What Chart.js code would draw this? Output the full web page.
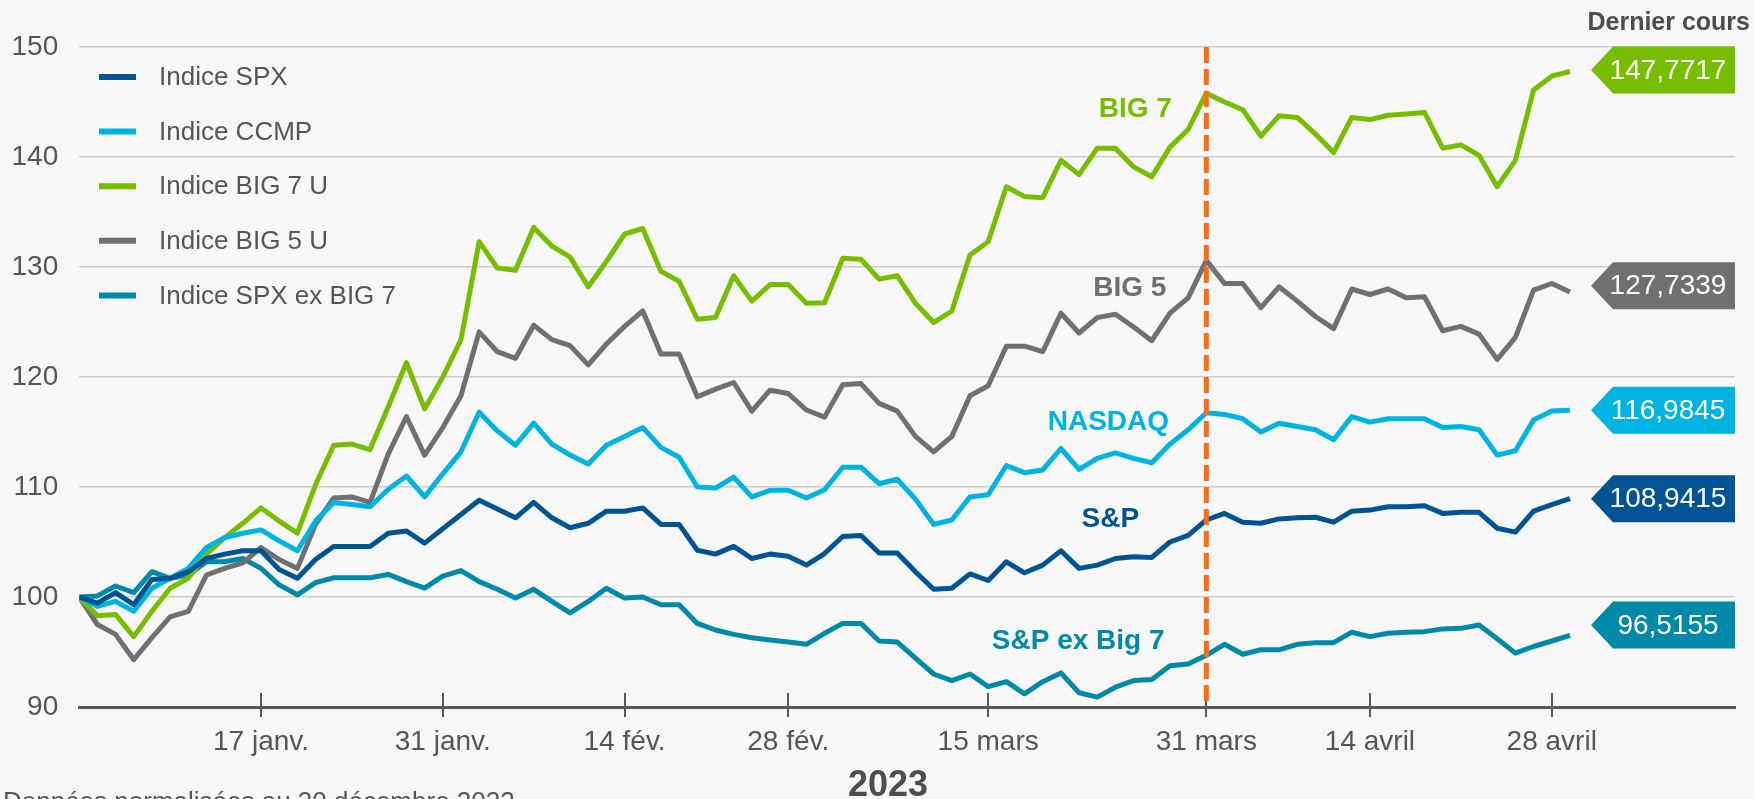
<!DOCTYPE html>
<html>
<head>
<meta charset="utf-8">
<script src="https://cdn.jsdelivr.net/npm/chart.js@4.4.1/dist/chart.umd.min.js"></script>
<style>
html,body{margin:0;padding:0;background:#f7f7f7;overflow:hidden}
#wrap{width:1754px;height:799px;position:relative}
</style>
</head>
<body>
<div id="wrap"><canvas id="c" width="1754" height="799"></canvas></div>
<script>
// ---------- DATA ----------
const dates = ['2022-12-30',
 '2023-01-03','2023-01-04','2023-01-05','2023-01-06','2023-01-09','2023-01-10','2023-01-11','2023-01-12','2023-01-13',
 '2023-01-17','2023-01-18','2023-01-19','2023-01-20','2023-01-23','2023-01-24','2023-01-25','2023-01-26','2023-01-27',
 '2023-01-30','2023-01-31','2023-02-01','2023-02-02','2023-02-03','2023-02-06','2023-02-07','2023-02-08','2023-02-09',
 '2023-02-10','2023-02-13','2023-02-14','2023-02-15','2023-02-16','2023-02-17','2023-02-21','2023-02-22','2023-02-23',
 '2023-02-24','2023-02-27','2023-02-28','2023-03-01','2023-03-02','2023-03-03','2023-03-06','2023-03-07','2023-03-08',
 '2023-03-09','2023-03-10','2023-03-13','2023-03-14','2023-03-15','2023-03-16','2023-03-17','2023-03-20','2023-03-21',
 '2023-03-22','2023-03-23','2023-03-24','2023-03-27','2023-03-28','2023-03-29','2023-03-30','2023-03-31','2023-04-03',
 '2023-04-04','2023-04-05','2023-04-06','2023-04-10','2023-04-11','2023-04-12','2023-04-13','2023-04-14','2023-04-17',
 '2023-04-18','2023-04-19','2023-04-20','2023-04-21','2023-04-24','2023-04-25','2023-04-26','2023-04-27','2023-04-28',
 '2023-05-01'];

const tickDates  = ['2023-01-17','2023-01-31','2023-02-14','2023-02-28','2023-03-15','2023-03-31','2023-04-14','2023-04-28'];
const tickLabels = ['17 janv.','31 janv.','14 fév.','28 fév.','15 mars','31 mars','14 avril','28 avril'];
const markerDate = '2023-03-31';
const yTicks = [90, 100, 110, 120, 130, 140, 150];

const seriesNames = ['Indice SPX', 'Indice CCMP', 'Indice BIG 7 U', 'Indice BIG 5 U', 'Indice SPX ex BIG 7'];
const seriesTags  = ['S&P', 'NASDAQ', 'BIG 7', 'BIG 5', 'S&P ex Big 7'];

const spx = [100,99.45,100.4,99.3,101.6,101.7,102.3,103.5,103.9,104.2,
 104.2,102.5,101.7,103.4,104.6,104.6,104.6,105.8,106.0,104.9,
 106.2,107.5,108.8,108.0,107.2,108.6,107.2,106.3,106.7,107.8,
 107.8,108.1,106.6,106.6,104.25,103.9,104.6,103.5,103.9,103.7,
 102.9,103.95,105.5,105.6,104.0,104.0,102.3,100.7,100.8,102.1,
 101.5,103.2,102.2,102.9,104.2,102.6,102.9,103.5,103.65,103.6,
 105.0,105.6,107.0,107.6,106.8,106.7,107.1,107.2,107.25,106.8,
 107.8,107.9,108.2,108.2,108.3,107.6,107.7,107.7,106.25,105.9,
 107.8,108.4,108.9415];

const ccmp = [100,99.15,99.6,98.7,100.8,101.7,102.6,104.5,105.4,105.8,
 106.1,105.1,104.2,106.9,108.6,108.4,108.2,109.8,111.0,109.1,
 111.2,113.2,116.8,115.1,113.8,115.8,113.9,112.9,112.1,113.8,
 114.6,115.4,113.6,112.7,110.0,109.9,110.9,109.1,109.7,109.7,
 109.0,109.75,111.8,111.8,110.3,110.7,108.9,106.6,107.0,109.1,
 109.3,111.95,111.3,111.55,113.5,111.6,112.6,113.1,112.6,112.2,
 113.9,115.2,116.75,116.6,116.2,115.0,115.8,115.5,115.2,114.3,
 116.4,115.9,116.2,116.2,116.2,115.4,115.5,115.2,112.9,113.3,
 116.1,116.9,116.9845];

const big7 = [100,98.3,98.4,96.4,98.7,100.8,101.7,103.9,105.4,106.7,
 108.1,106.9,105.8,110.2,113.8,113.9,113.4,117.3,121.3,117.1,
 120.0,123.4,132.3,129.9,129.7,133.6,131.9,130.9,128.2,130.5,
 133.0,133.5,129.6,128.7,125.25,125.4,129.2,126.9,128.4,128.4,
 126.7,126.75,130.8,130.7,128.9,129.2,126.7,124.95,126.0,131.1,
 132.3,137.3,136.4,136.3,139.7,138.4,140.8,140.8,139.1,138.2,
 140.9,142.5,145.8,145.0,144.3,141.9,143.75,143.6,142.1,140.4,
 143.6,143.4,143.8,143.9,144.05,140.8,141.1,140.15,137.3,139.7,
 146.1,147.35,147.7717];

const big5 = [100,97.5,96.6,94.3,96.3,98.2,98.7,102.0,102.6,103.1,
 104.5,103.4,102.6,106.6,109.0,109.1,108.6,113.0,116.4,112.9,
 115.4,118.3,124.1,122.3,121.7,124.7,123.4,122.85,121.1,123.0,
 124.6,126.0,122.1,122.1,118.2,118.9,119.5,116.9,118.8,118.5,
 117.0,116.35,119.3,119.4,117.6,116.9,114.6,113.2,114.6,118.3,
 119.2,122.8,122.8,122.3,125.8,124.0,125.4,125.7,124.55,123.3,
 125.8,127.2,130.6,128.5,128.5,126.3,128.2,126.9,125.5,124.4,
 128.0,127.5,128.0,127.2,127.3,124.2,124.6,123.9,121.6,123.6,
 127.9,128.5,127.7339];

const spxExBig7 = [100,100.1,101.0,100.4,102.3,101.7,102.0,103.2,103.2,103.5,
 102.6,101.1,100.2,101.3,101.75,101.75,101.75,102.05,101.4,100.8,
 101.9,102.4,101.4,100.7,99.9,100.7,99.6,98.55,99.6,100.8,
 99.9,100.0,99.3,99.3,97.6,97.0,96.6,96.3,96.1,95.9,
 95.7,96.7,97.6,97.6,96.0,95.9,94.45,93.0,92.4,93.0,
 91.85,92.3,91.2,92.3,93.1,91.3,90.9,91.8,92.4,92.5,
 93.75,93.9,94.7,95.7,94.8,95.2,95.2,95.7,95.85,95.85,
 96.8,96.4,96.7,96.8,96.85,97.1,97.15,97.45,96.2,94.9,
 95.5,96.0,96.5155];

// ---------- STYLE ----------
const series = [spx, ccmp, big7, big5, spxExBig7];
const colors = ['#005494', '#00B4E2', '#78BE00', '#6E7072', '#0089A8'];
const FONT = '"Liberation Sans", Arial, Helvetica, sans-serif';
const TEXT = '#555555';
// tag anchors (category index of right edge, value of centre)
const tagPos = [[58.3, 107.05], [59.95, 115.9], [60.1, 144.3], [59.8, 128.1], [59.7, 96.0]];
// value box centres (value units), slightly adjusted where the source shifts them
const boxPos = [108.94, 116.98, 147.9, 128.3, 97.45];

const overlay = {
  id: 'overlay',
  beforeDraw(c) {
    const g = c.ctx; g.save(); g.fillStyle = '#f7f7f7'; g.fillRect(0, 0, c.width, c.height); g.restore();
  },
  afterDatasetsDraw(c) {
    const g = c.ctx, xs = c.scales.x, ys = c.scales.y, a = c.chartArea;
    g.save();
    // x tick crosses
    g.strokeStyle = '#595959'; g.lineWidth = 2;
    tickDates.forEach(d => {
      const x = Math.round(xs.getPixelForValue(dates.indexOf(d)));
      g.beginPath(); g.moveTo(x, a.bottom - 14); g.lineTo(x, a.bottom + 10); g.stroke();
    });
    // marker dashed line
    const mx = xs.getPixelForValue(dates.indexOf(markerDate));
    g.strokeStyle = '#FF6A13'; g.lineWidth = 5; g.setLineDash([16, 6]);
    g.beginPath(); g.moveTo(mx, a.top); g.lineTo(mx, a.bottom); g.stroke();
    g.setLineDash([]);
    // series tags
    g.font = 'bold 28px ' + FONT; g.textAlign = 'right'; g.textBaseline = 'middle';
    seriesTags.forEach((t, k) => {
      g.fillStyle = colors[k];
      g.fillText(t, xs.getPixelForValue(tagPos[k][0]), ys.getPixelForValue(tagPos[k][1]));
    });
    // last value boxes
    series.forEach((s, k) => {
      const v = s[s.length - 1], y = ys.getPixelForValue(boxPos[k]), r = a.right, h = 23.5;
      g.fillStyle = colors[k];
      g.beginPath(); g.moveTo(r - 144, y); g.lineTo(r - 122, y - h); g.lineTo(r, y - h);
      g.lineTo(r, y + h); g.lineTo(r - 122, y + h); g.closePath(); g.fill();
      g.fillStyle = '#ffffff'; g.font = '28px ' + FONT; g.textAlign = 'center'; g.textBaseline = 'middle';
      g.fillText(v.toFixed(4).replace('.', ','), r - 67, y + 1);
    });
    // legend
    seriesNames.forEach((n, k) => {
      const y = 77 + k * 54.6;
      g.strokeStyle = colors[k]; g.lineWidth = 6;
      g.beginPath(); g.moveTo(99, y); g.lineTo(136, y); g.stroke();
      g.fillStyle = TEXT; g.font = '26px ' + FONT; g.textAlign = 'left'; g.textBaseline = 'middle';
      g.fillText(n, 159, y + 1);
    });
    // header / footer texts
    g.fillStyle = '#4d4d4d'; g.font = 'bold 25px ' + FONT; g.textAlign = 'right'; g.textBaseline = 'alphabetic';
    g.fillText('Dernier cours', 1750, 30);
    g.font = 'bold 36px ' + FONT; g.textAlign = 'center';
    g.fillText('2023', 888, 796);
    g.fillStyle = TEXT; g.font = '26px ' + FONT; g.textAlign = 'left';
    g.fillText('Données normalisées au 30 décembre 2022', 3, 810);
    g.restore();
  }
};

new Chart(document.getElementById('c'), {
  type: 'line',
  data: {
    datasets: series.map((s, k) => ({
      label: seriesNames[k],
      data: s.map((v, i) => ({ x: i, y: v })),
      borderColor: colors[k],
      backgroundColor: colors[k],
      borderWidth: 5,
      pointRadius: 0,
      fill: false,
      tension: 0,
      borderJoinStyle: 'round'
    }))
  },
  options: {
    responsive: false,
    animation: false,
    devicePixelRatio: 1,
    layout: { padding: { top: 47, right: 19, left: 0, bottom: 0 } },
    plugins: { legend: { display: false }, tooltip: { enabled: false } },
    scales: {
      x: {
        type: 'linear', min: 0, max: 91.08,
        afterBuildTicks: s => { s.ticks = tickDates.map(d => ({ value: dates.indexOf(d) })); },
        afterFit: s => { s.height = 92; },
        grid: { display: true, drawOnChartArea: false, drawTicks: false, color: 'rgba(0,0,0,0)' },
        border: { display: true, color: '#595959', width: 3 },
        ticks: {
          autoSkip: false, maxRotation: 0, padding: 18,
          font: { family: FONT, size: 28 }, color: TEXT,
          callback: v => { const k = tickDates.indexOf(dates[v]); return k >= 0 ? tickLabels[k] : ''; }
        }
      },
      y: {
        min: 90, max: 150,
        afterBuildTicks: s => { s.ticks = yTicks.map(v => ({ value: v })); },
        afterFit: s => { s.width = 79.2; },
        grid: { color: '#CDCDCD', lineWidth: 1.5, drawTicks: false },
        border: { display: false },
        ticks: { padding: 21, font: { family: FONT, size: 28 }, color: TEXT }
      }
    }
  },
  plugins: [overlay]
});
</script>
</body>
</html>
